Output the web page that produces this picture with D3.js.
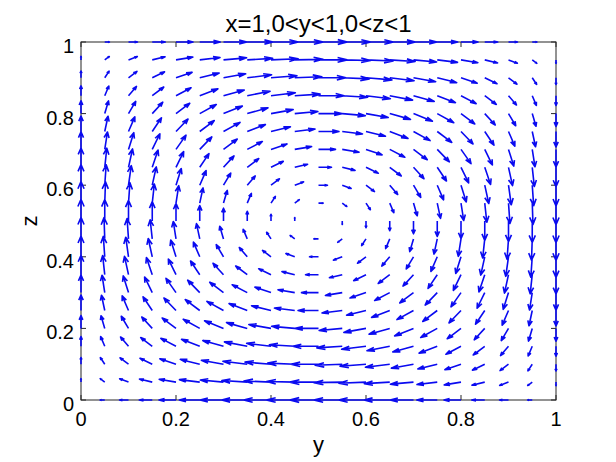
<!DOCTYPE html>
<html>
<head>
<meta charset="utf-8">
<script src="https://cdn.jsdelivr.net/npm/d3@7"></script>
<style>
  body { margin: 0; background: #fff; }
  text { font-family: "Liberation Sans", Arial, sans-serif; fill: #000; }
</style>
</head>
<body>
<svg id="chart" width="616" height="462"></svg>
<script>
// grid points along y and z (0:0.05:1)
const gridY = [0, 0.05, 0.1, 0.15, 0.2, 0.25, 0.3, 0.35, 0.4, 0.45, 0.5,
               0.55, 0.6, 0.65, 0.7, 0.75, 0.8, 0.85, 0.9, 0.95, 1];
const gridZ = [0, 0.05, 0.1, 0.15, 0.2, 0.25, 0.3, 0.35, 0.4, 0.45, 0.5,
               0.55, 0.6, 0.65, 0.7, 0.75, 0.8, 0.85, 0.9, 0.95, 1];

// field profiles (field is separable: u = uY*uZ, w = wY*wZ)
const uAlongY = [0, 0.16, 0.31, 0.45, 0.59, 0.71, 0.81, 0.89, 0.95, 0.99, 1,
                 0.99, 0.95, 0.89, 0.81, 0.71, 0.59, 0.45, 0.31, 0.16, 0];
const uAlongZ = [-1, -0.99, -0.95, -0.89, -0.81, -0.71, -0.59, -0.45, -0.31, -0.16, 0,
                 0.16, 0.31, 0.45, 0.59, 0.71, 0.81, 0.89, 0.95, 0.99, 1];
const wAlongY = [1, 0.99, 0.95, 0.89, 0.81, 0.71, 0.59, 0.45, 0.31, 0.16, 0,
                 -0.16, -0.31, -0.45, -0.59, -0.71, -0.81, -0.89, -0.95, -0.99, -1];
const wAlongZ = [0, 0.16, 0.31, 0.45, 0.59, 0.71, 0.81, 0.89, 0.95, 0.99, 1,
                 0.99, 0.95, 0.89, 0.81, 0.71, 0.59, 0.45, 0.31, 0.16, 0];

const tickValues = [0, 0.2, 0.4, 0.6, 0.8, 1];
const tickLabels = ["0", "0.2", "0.4", "0.6", "0.8", "1"];
const titleText = "x=1,0<y<1,0<z<1";

const margin = {top: 42, right: 60, bottom: 62, left: 81};
const width = 616, height = 462;

const svg = d3.select("#chart");

const x = d3.scaleLinear().domain([0, 1]).range([margin.left, width - margin.right]);
const y = d3.scaleLinear().domain([0, 1]).range([height - margin.bottom, margin.top]);

// build the vectors
let vecs = [];
gridY.forEach(function(gy, i) {
    gridZ.forEach(function(gz, j) {
        vecs.push({y: gy, z: gz, u: uAlongY[i] * uAlongZ[j], w: wAlongY[i] * wAlongZ[j]});
    });
});

// matlab style autoscale
const n = Math.sqrt(vecs.length);
const delx = 1 / n, dely = 1 / n;
const del = delx * delx + dely * dely;
const maxlen = d3.max(vecs, d => Math.sqrt((d.u * d.u + d.w * d.w) / del));
const autoscale = 0.9 / maxlen;
const alpha = 0.33, beta = 0.33;

// axes box
const axisColor = "#262626";
svg.append("rect")
    .attr("x", x(0)).attr("y", y(1))
    .attr("width", x(1) - x(0)).attr("height", y(0) - y(1))
    .attr("fill", "none").attr("stroke", axisColor).attr("stroke-width", 1);

const tickLen = 5;
let ticks = svg.append("g").attr("stroke", axisColor).attr("stroke-width", 1);
tickValues.forEach(function(t) {
    ticks.append("line").attr("x1", x(t)).attr("x2", x(t)).attr("y1", y(0)).attr("y2", y(0) - tickLen);
    ticks.append("line").attr("x1", x(t)).attr("x2", x(t)).attr("y1", y(1)).attr("y2", y(1) + tickLen);
    ticks.append("line").attr("y1", y(t)).attr("y2", y(t)).attr("x1", x(0)).attr("x2", x(0) + tickLen);
    ticks.append("line").attr("y1", y(t)).attr("y2", y(t)).attr("x1", x(1)).attr("x2", x(1) - tickLen);
});

svg.append("g").selectAll("text")
    .data(tickValues)
    .enter().append("text")
        .attr("x", d => x(d))
        .attr("y", y(0) + 26)
        .attr("text-anchor", "middle")
        .style("font-size", "20px")
        .text((d, i) => tickLabels[i]);

svg.append("g").selectAll("text")
    .data(tickValues)
    .enter().append("text")
        .attr("x", x(0) - 7)
        .attr("y", d => y(d) + 11)
        .attr("text-anchor", "end")
        .style("font-size", "20px")
        .text((d, i) => tickLabels[i]);

// arrows
let path = "";
vecs.forEach(function(d) {
    const u = d.u * autoscale, v = d.w * autoscale;
    const x0 = d.y, y0 = d.z, x1 = d.y + u, y1 = d.z + v;
    path += "M" + x(x0) + "," + y(y0) + "L" + x(x1) + "," + y(y1);
    const hx1 = x1 - alpha * (u + beta * (v + 1e-16));
    const hy1 = y1 - alpha * (v - beta * (u + 1e-16));
    const hx2 = x1 - alpha * (u - beta * (v + 1e-16));
    const hy2 = y1 - alpha * (v + beta * (u + 1e-16));
    path += "M" + x(hx1) + "," + y(hy1) + "L" + x(x1) + "," + y(y1) + "L" + x(hx2) + "," + y(hy2);
});
svg.append("path")
    .attr("d", path)
    .attr("fill", "none")
    .attr("stroke", "#0a0af0")
    .attr("stroke-width", 1.6)
    .attr("stroke-linejoin", "round");

// labels
svg.append("text")
    .attr("x", (x(0) + x(1)) / 2)
    .attr("y", 32)
    .attr("text-anchor", "middle")
    .style("font-size", "24px")
    .text(titleText);

svg.append("text")
    .attr("x", (x(0) + x(1)) / 2)
    .attr("y", 452)
    .attr("text-anchor", "middle")
    .style("font-size", "22px")
    .text("y");

svg.append("text")
    .attr("transform", "translate(37," + ((y(0) + y(1)) / 2) + ") rotate(-90)")
    .attr("text-anchor", "middle")
    .style("font-size", "22px")
    .text("z");
</script>
</body>
</html>
